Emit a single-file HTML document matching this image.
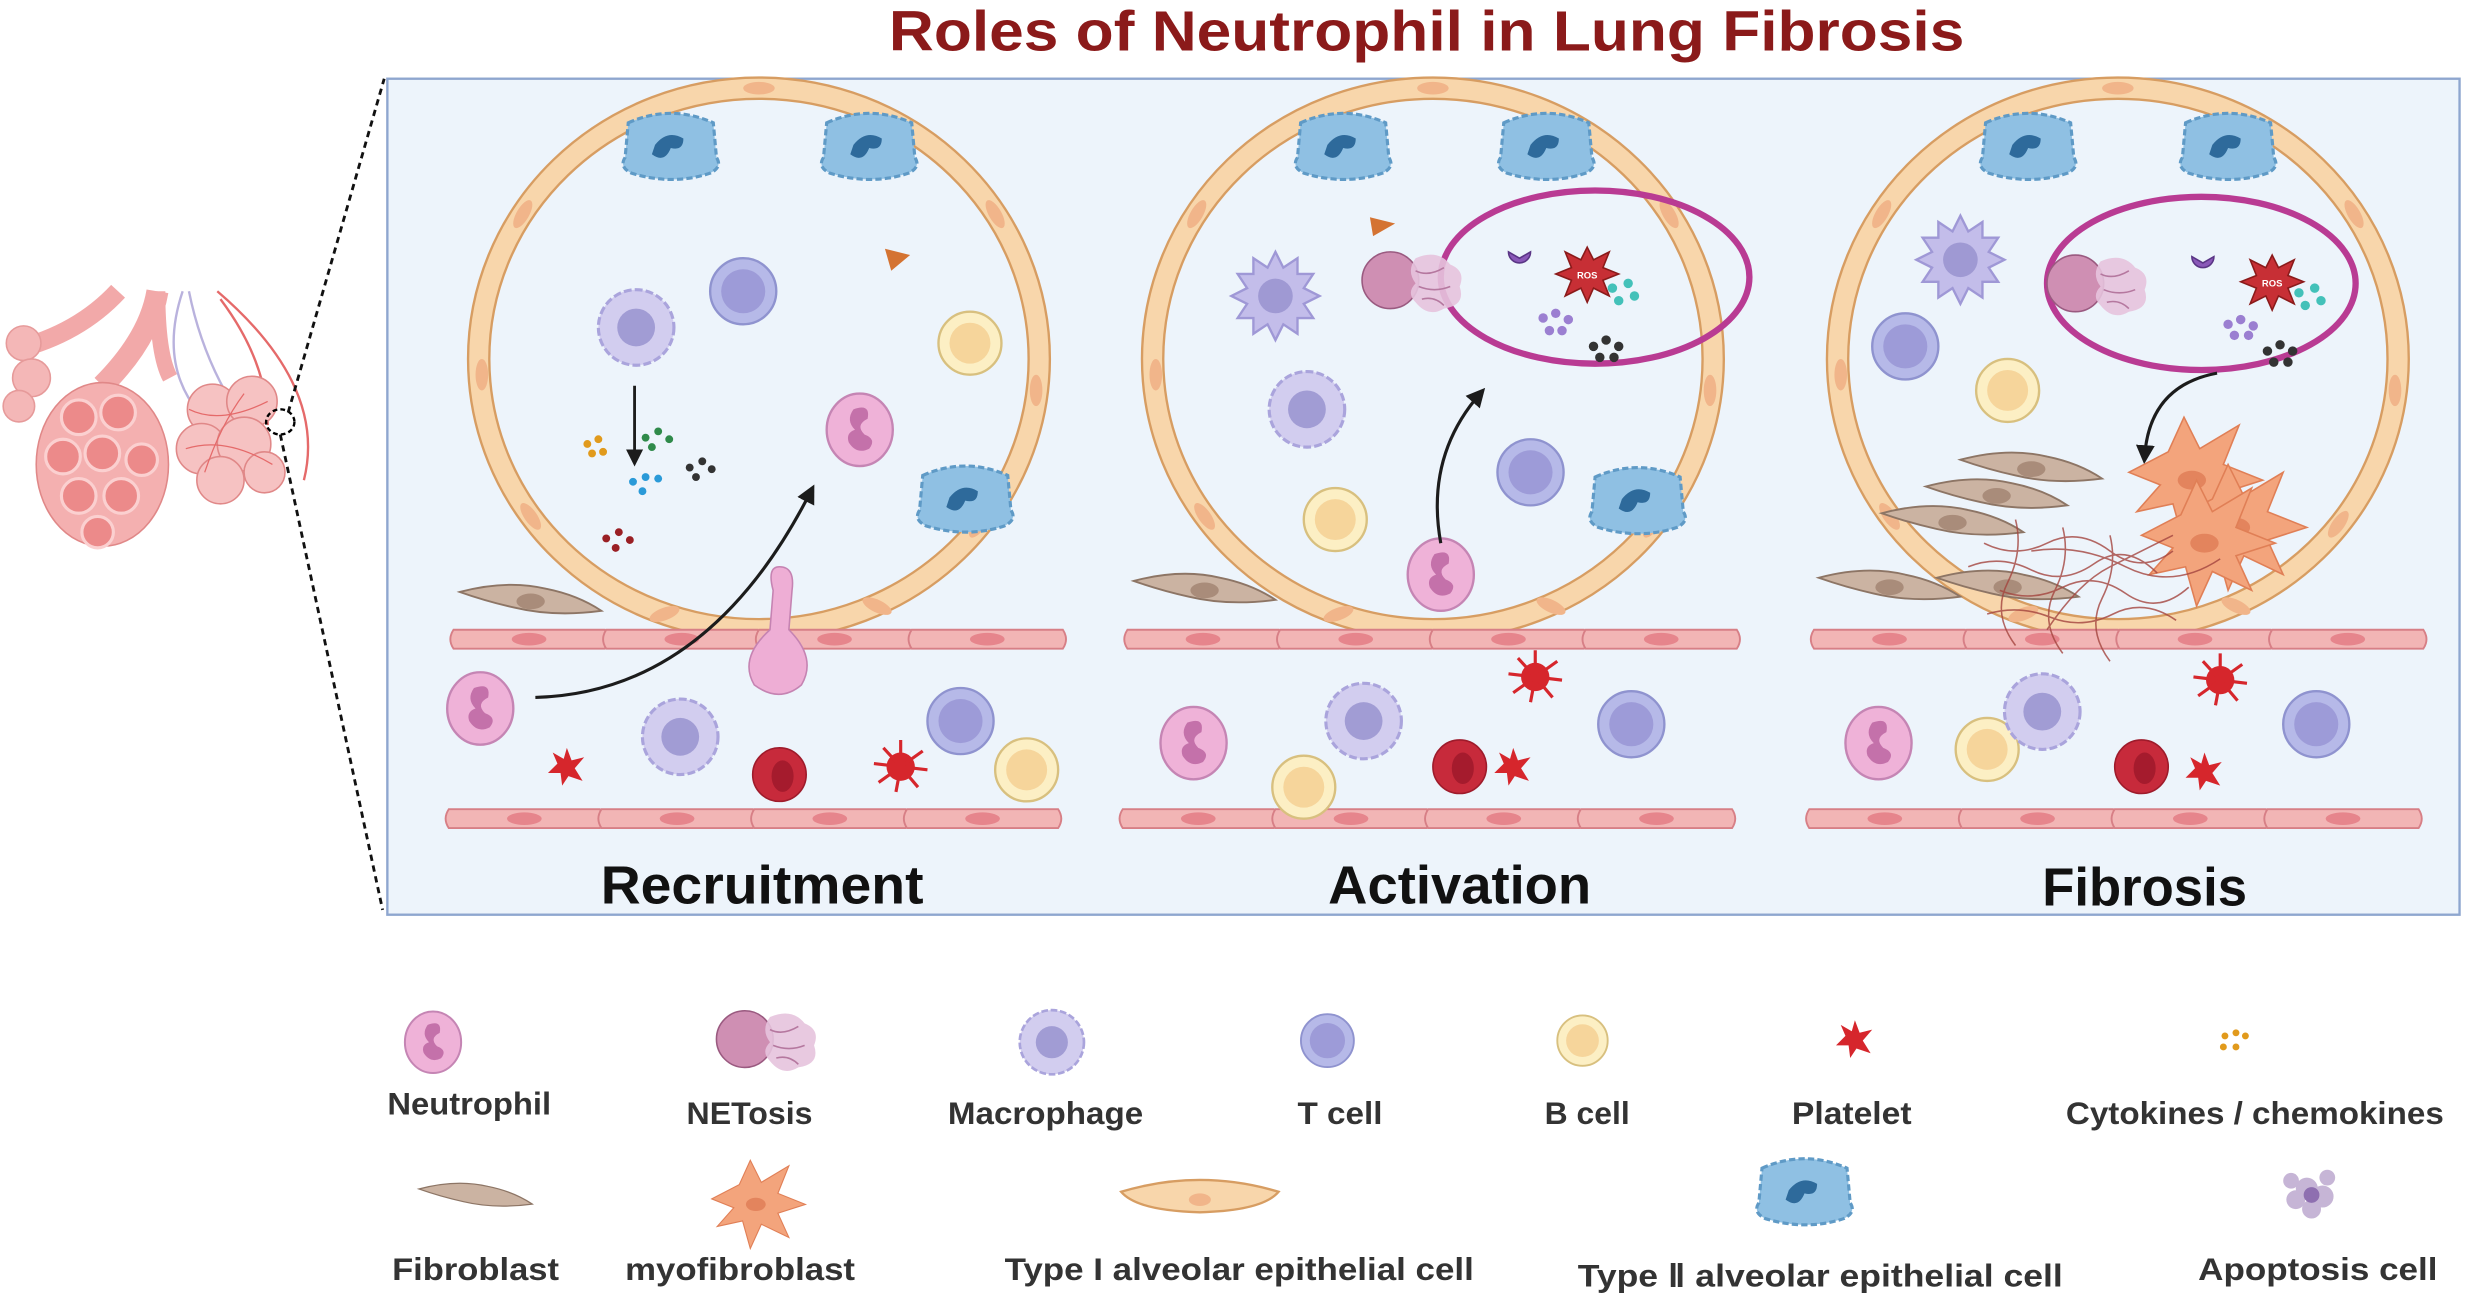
<!DOCTYPE html>
<html><head><meta charset="utf-8"><style>
html,body{margin:0;padding:0;background:#fff;}
svg{display:block;}
text{font-family:"Liberation Sans",sans-serif;font-weight:bold;}
</style></head><body>
<svg width="2469" height="1302" viewBox="0 0 1568 827" preserveAspectRatio="none" xmlns="http://www.w3.org/2000/svg">
<defs>
<g id="neu"><ellipse rx="21" ry="23" fill="#efb2d8" stroke="#c585b4" stroke-width="1.5"/><path d="M-4,-13 q11,-4 9,6 q-8,4 -2,10 q8,3 3,9 q-8,4 -13,-4 q-2,-6 4,-8 q-6,-6 -1,-13z" fill="#c471aa"/></g>
<g id="mac"><circle r="24" fill="#d2cdef" stroke="#aaa4dc" stroke-width="2" stroke-dasharray="5 2"/><circle r="12" fill="#a19cd4"/></g>
<g id="macs"><polygon points="0,-28 5,-18 14,-24 14,-14 24,-14 18,-5 28,0 18,5 24,14 14,14 14,24 5,18 0,28 -5,18 -14,24 -14,14 -24,14 -18,5 -28,0 -18,-5 -24,-14 -14,-14 -14,-24 -5,-18" fill="#c3bdea" stroke="#9f98d6" stroke-width="1.5"/><circle r="11" fill="#9f99d3"/></g>
<g id="tc"><circle r="21" fill="#b6b9e8" stroke="#8f93cf" stroke-width="1.5"/><circle r="14" fill="#9d9bd8"/></g>
<g id="bc"><circle r="20" fill="#fcefc4" stroke="#d8c07f" stroke-width="1.5"/><circle r="13" fill="#f6d59b"/></g>
<g id="t2"><path d="M-27,-20 q27,-12 54,0 l2,22 q4,6 -4,10 q-24,8 -50,0 q-8,-4 -4,-10z" fill="#8fc0e3" stroke="#5f9ac6" stroke-width="2" stroke-dasharray="4 2"/><path d="M-10,-6 q8,-10 18,-4 q0,8 -8,6 q-4,10 -12,4z" fill="#2e6a9b"/></g>
<g id="rbc"><circle r="17" fill="#c72a3b" stroke="#9e1b2b"/><ellipse cx="2" cy="1" rx="7" ry="10" fill="#a51b2d"/></g>
<g id="plt"><polygon points="0,-12 3,-4 11,-6 5,1 10,9 1,6 -3,12 -4,4 -12,4 -6,-2 -9,-9 -2,-5" fill="#d6262c"/></g>
<g id="plts"><circle r="9" fill="#d6262c"/><path d="M0,0 L0,-17 M0,0 L14,-10 M0,0 L17,2 M0,0 L11,13 M0,0 L-3,16 M0,0 L-14,10 M0,0 L-17,-2 M0,0 L-11,-12" stroke="#d6262c" stroke-width="2"/></g>
<g id="fib"><path d="M-45,-6 q30,-8 55,-2 q20,4 35,14 q-30,4 -55,-2 q-18,-4 -35,-10z" fill="#cbb3a2" stroke="#8d7565" stroke-width="1.2"/><ellipse cx="0" cy="0" rx="9" ry="5" fill="#a98c7a"/></g>
<g id="endo"><path d="M0,0 h96 q4,6 0,12 h-96 q-4,-6 0,-12z" fill="#f2b5b5" stroke="#d77f86" stroke-width="1.2"/><ellipse cx="48" cy="6" rx="11" ry="4" fill="#e6858c"/></g>
<g id="myo"><polygon points="-40,-5 -15,-18 -5,-40 5,-20 30,-35 20,-10 45,0 20,8 30,30 5,18 -5,40 -12,15 -35,20 -20,3" fill="#f3a47c" stroke="#e07f56" stroke-width="1"/><ellipse rx="9" ry="6" fill="#e3845d"/></g>
<g id="net"><circle cx="-12" cy="0" r="18" fill="#cf8fb3" stroke="#9a5a80"/><path d="M4,-14 q14,-6 22,4 q10,4 6,14 q4,12 -10,14 q-10,6 -18,-4 q-6,-6 0,-12 q-6,-8 0,-16z" fill="#e6c3dd" opacity="0.9"/><path d="M4,-6 q8,4 18,-2 M6,4 q10,4 20,0 M8,12 q8,-2 14,4" stroke="#b5789f" fill="none"/></g>
<g id="alv"><ellipse rx="178" ry="172" fill="none" stroke="#d79d62" stroke-width="15"/><ellipse rx="178" ry="172" fill="none" stroke="#f8d6ab" stroke-width="12"/>
<g fill="#f1b58a"><ellipse cx="0" cy="-172" rx="10" ry="4"/><ellipse cx="-150" cy="-92" rx="4" ry="10" transform="rotate(30 -150 -92)"/><ellipse cx="150" cy="-92" rx="4" ry="10" transform="rotate(-30 150 -92)"/><ellipse cx="-176" cy="10" rx="4" ry="10"/><ellipse cx="176" cy="20" rx="4" ry="10"/><ellipse cx="-145" cy="100" rx="4" ry="10" transform="rotate(-35 -145 100)"/><ellipse cx="140" cy="105" rx="4" ry="10" transform="rotate(35 140 105)"/><ellipse cx="-60" cy="162" rx="10" ry="4" transform="rotate(-20 -60 162)"/><ellipse cx="75" cy="157" rx="10" ry="4" transform="rotate(25 75 157)"/></g></g>
<g id="vessel"><use href="#endo" x="0" y="0"/><use href="#endo" x="97" y="0"/><use href="#endo" x="194" y="0"/><use href="#endo" x="291" y="0"/>
<use href="#endo" x="-3" y="114"/><use href="#endo" x="94" y="114"/><use href="#endo" x="191" y="114"/><use href="#endo" x="288" y="114"/></g>
<marker id="ah" viewBox="0 0 10 10" refX="6" refY="5" markerWidth="6" markerHeight="6" orient="auto"><path d="M0,0 L10,5 L0,10z" fill="#1c1c1c"/></marker>
</defs>

<text x="906" y="32" font-size="36" fill="#8b1a1a" text-anchor="middle" textLength="683" lengthAdjust="spacingAndGlyphs">Roles of Neutrophil in Lung Fibrosis</text>

<!-- lung -->
<g>
<path d="M10,222 q40,-10 65,-37" stroke="#f2a9a9" stroke-width="12" fill="none"/>
<path d="M100,185 q-5,30 -35,60" stroke="#f2a9a9" stroke-width="14" fill="none"/>
<path d="M100,185 q0,40 8,55" stroke="#f2a9a9" stroke-width="10" fill="none"/>
<path d="M116,185 q-20,60 30,95 M120,185 q10,50 40,90" stroke="#b9b2dd" stroke-width="1.5" fill="none"/>
<path d="M138,185 q70,60 55,120 M140,190 q30,40 30,80" stroke="#e56a6a" stroke-width="1.5" fill="none"/>
<g fill="#f4b7b7" stroke="#e69a9a"><circle cx="15" cy="218" r="11"/><circle cx="20" cy="240" r="12"/><circle cx="12" cy="258" r="10"/></g>
<ellipse cx="65" cy="295" rx="42" ry="52" fill="#f4b0b0" stroke="#e08888"/>
<g fill="#ec8a8a" stroke="#fbd0d0" stroke-width="2"><circle cx="50" cy="265" r="11"/><circle cx="75" cy="262" r="11"/><circle cx="40" cy="290" r="11"/><circle cx="65" cy="288" r="11"/><circle cx="90" cy="292" r="10"/><circle cx="50" cy="315" r="11"/><circle cx="77" cy="315" r="11"/><circle cx="62" cy="338" r="10"/></g>
<g fill="#f6c2c2" stroke="#e08888"><circle cx="135" cy="260" r="16"/><circle cx="160" cy="255" r="16"/><circle cx="128" cy="285" r="16"/><circle cx="155" cy="282" r="17"/><circle cx="140" cy="305" r="15"/><circle cx="168" cy="300" r="13"/></g>
<path d="M120,260 q20,10 50,-5 M118,285 q25,-8 55,10 M130,300 q10,-30 25,-50" stroke="#e56a6a" stroke-width="0.8" fill="none"/>
<ellipse cx="178" cy="268" rx="9" ry="8" fill="none" stroke="#000" stroke-dasharray="3 2" stroke-width="1.5"/>
</g>
<path d="M183,262 L244,50 M178,276 L243,578" stroke="#111" stroke-width="1.8" stroke-dasharray="4 3"/>

<rect x="246" y="50" width="1316" height="531" fill="#edf4fb" stroke="#8ea6cf" stroke-width="1.5"/>

<!-- Panel 1 -->
<use href="#alv" x="482" y="228"/>
<use href="#vessel" x="288" y="400"/>
<use href="#t2" x="426" y="98"/><use href="#t2" x="552" y="98"/><use href="#t2" x="613" y="322"/>
<use href="#mac" x="404" y="208"/><use href="#tc" x="472" y="185"/><use href="#bc" x="616" y="218"/>
<polygon points="562,158 578,162 566,172" fill="#d47332"/>
<use href="#neu" x="546" y="273"/>
<g fill="#e19a1c"><circle cx="373" cy="282" r="2.5"/><circle cx="380" cy="279" r="2.5"/><circle cx="376" cy="288" r="2.5"/><circle cx="383" cy="287" r="2.5"/></g>
<g fill="#2f8a4a"><circle cx="410" cy="278" r="2.5"/><circle cx="418" cy="274" r="2.5"/><circle cx="425" cy="279" r="2.5"/><circle cx="414" cy="284" r="2.5"/></g>
<g fill="#2a9ad8"><circle cx="402" cy="306" r="2.5"/><circle cx="410" cy="303" r="2.5"/><circle cx="418" cy="304" r="2.5"/><circle cx="408" cy="312" r="2.5"/></g>
<g fill="#333"><circle cx="438" cy="297" r="2.5"/><circle cx="446" cy="293" r="2.5"/><circle cx="452" cy="298" r="2.5"/><circle cx="442" cy="303" r="2.5"/></g>
<g fill="#9a1f24"><circle cx="385" cy="342" r="2.5"/><circle cx="393" cy="338" r="2.5"/><circle cx="400" cy="343" r="2.5"/><circle cx="391" cy="348" r="2.5"/></g>
<path d="M403,245 L403,292" stroke="#1c1c1c" stroke-width="1.8" marker-end="url(#ah)"/>
<path d="M340,443 Q450,440 515,312" stroke="#1c1c1c" stroke-width="2" fill="none" marker-end="url(#ah)"/>
<use href="#fib" x="337" y="382"/>
<path d="M495,360 q10,0 8,15 l-2,25 q18,18 8,35 q-14,12 -30,0 q-10,-17 10,-35 l2,-25 q-4,-15 4,-15z" fill="#eeaed5" stroke="#c583b2"/>
<use href="#neu" x="305" y="450"/><use href="#plt" x="360" y="487"/><use href="#mac" x="432" y="468"/>
<use href="#rbc" x="495" y="492"/><use href="#plts" x="572" y="487"/><use href="#tc" x="610" y="458"/><use href="#bc" x="652" y="489"/>
<text x="484" y="574" font-size="34" fill="#111" text-anchor="middle" textLength="205" lengthAdjust="spacingAndGlyphs">Recruitment</text>

<!-- Panel 2 -->
<use href="#alv" x="910" y="228"/>
<use href="#vessel" x="716" y="400"/>
<use href="#t2" x="853" y="98"/><use href="#t2" x="982" y="98"/><use href="#t2" x="1040" y="323"/>
<ellipse cx="1013" cy="176" rx="98" ry="55" fill="none" stroke="#b93b93" stroke-width="4"/>
<use href="#net" x="895" y="178"/>
<path d="M958,160 a7,7 0 1,0 14,0 l-7,4z" fill="#8a58b8" stroke="#5a3585"/>
<polygon points="1008,157 1012,165 1022,160 1018,170 1028,174 1018,178 1022,188 1012,183 1008,192 1004,183 994,188 998,178 988,174 998,170 994,160 1004,165" fill="#c72f35" stroke="#8a1a1a"/>
<text x="1008" y="177" font-size="6" fill="#fff" text-anchor="middle">ROS</text>
<g fill="#43c1b9"><circle cx="1024" cy="183" r="3"/><circle cx="1034" cy="180" r="3"/><circle cx="1028" cy="191" r="3"/><circle cx="1038" cy="188" r="3"/></g>
<g fill="#9b7fd1"><circle cx="980" cy="202" r="3"/><circle cx="988" cy="199" r="3"/><circle cx="996" cy="203" r="3"/><circle cx="984" cy="210" r="3"/><circle cx="992" cy="210" r="3"/></g>
<g fill="#333"><circle cx="1012" cy="220" r="3"/><circle cx="1020" cy="216" r="3"/><circle cx="1028" cy="220" r="3"/><circle cx="1016" cy="227" r="3"/><circle cx="1025" cy="227" r="3"/></g>
<polygon points="870,138 886,142 872,150" fill="#d47332"/>
<use href="#macs" x="810" y="188"/><use href="#mac" x="830" y="260"/><use href="#tc" x="972" y="300"/><use href="#bc" x="848" y="330"/>
<use href="#neu" x="915" y="365"/>
<path d="M915,345 Q905,290 940,250" stroke="#1c1c1c" stroke-width="2" fill="none" marker-end="url(#ah)"/>
<use href="#fib" x="765" y="375"/>
<use href="#neu" x="758" y="472"/><use href="#mac" x="866" y="458"/><use href="#bc" x="828" y="500"/>
<use href="#rbc" x="927" y="487"/><use href="#plt" x="961" y="487"/><use href="#plts" x="975" y="430"/><use href="#tc" x="1036" y="460"/>
<text x="927" y="574" font-size="34" fill="#111" text-anchor="middle" textLength="167" lengthAdjust="spacingAndGlyphs">Activation</text>

<!-- Panel 3 -->
<use href="#alv" x="1345" y="228"/>
<use href="#vessel" x="1152" y="400"/>
<use href="#t2" x="1288" y="98"/><use href="#t2" x="1415" y="98"/>
<ellipse cx="1398" cy="180" rx="98" ry="55" fill="none" stroke="#b93b93" stroke-width="4"/>
<use href="#net" x="1330" y="180"/>
<path d="M1392,163 a7,7 0 1,0 14,0 l-7,4z" fill="#8a58b8" stroke="#5a3585"/>
<polygon points="1443,162 1447,170 1457,165 1453,175 1463,179 1453,183 1457,193 1447,188 1443,197 1439,188 1429,193 1433,183 1423,179 1433,175 1429,165 1439,170" fill="#c72f35" stroke="#8a1a1a"/>
<text x="1443" y="182" font-size="6" fill="#fff" text-anchor="middle">ROS</text>
<g fill="#43c1b9"><circle cx="1460" cy="186" r="3"/><circle cx="1470" cy="183" r="3"/><circle cx="1464" cy="194" r="3"/><circle cx="1474" cy="191" r="3"/></g>
<g fill="#9b7fd1"><circle cx="1415" cy="206" r="3"/><circle cx="1423" cy="203" r="3"/><circle cx="1431" cy="207" r="3"/><circle cx="1419" cy="213" r="3"/><circle cx="1428" cy="213" r="3"/></g>
<g fill="#333"><circle cx="1440" cy="223" r="3"/><circle cx="1448" cy="219" r="3"/><circle cx="1456" cy="223" r="3"/><circle cx="1444" cy="230" r="3"/><circle cx="1453" cy="230" r="3"/></g>
<use href="#macs" x="1245" y="165"/><use href="#tc" x="1210" y="220"/><use href="#bc" x="1275" y="248"/>
<path d="M1408,237 Q1365,245 1362,290" stroke="#1c1c1c" stroke-width="2" fill="none" marker-end="url(#ah)"/>
<use href="#fib" x="1290" y="298"/><use href="#fib" x="1268" y="315"/><use href="#fib" x="1240" y="332"/>
<use href="#fib" x="1200" y="373"/><use href="#fib" x="1275" y="373"/>
<use href="#myo" x="1392" y="305"/><use href="#myo" x="1420" y="335"/><use href="#myo" x="1400" y="345"/>
<g stroke="#a4453f" stroke-width="1" fill="none" opacity="0.8">
<path d="M1260,345 q20,10 40,0 t40,5 t40,0"/><path d="M1250,360 q20,-8 40,2 t40,-4 t40,6"/><path d="M1270,375 q20,8 40,-2 t40,4 t40,-4"/><path d="M1262,390 q20,-6 40,2 t40,-2 t40,4"/><path d="M1280,330 q5,20 -5,40 t5,40"/><path d="M1310,335 q5,20 -5,40 t5,40"/><path d="M1340,340 q5,20 -5,40 t5,40"/><path d="M1290,350 q30,-5 60,10 t60,-5"/><path d="M1300,400 q20,-30 40,-40 t40,-20"/></g>
<use href="#neu" x="1193" y="472"/><use href="#bc" x="1262" y="476"/><use href="#mac" x="1297" y="452"/>
<use href="#rbc" x="1360" y="487"/><use href="#plt" x="1400" y="490"/><use href="#plts" x="1410" y="432"/><use href="#tc" x="1471" y="460"/>
<text x="1362" y="575" font-size="34" fill="#111" text-anchor="middle" textLength="130" lengthAdjust="spacingAndGlyphs">Fibrosis</text>

<!-- Legend -->
<g transform="translate(275,662) scale(0.85)"><use href="#neu"/></g>
<g transform="translate(485,660) scale(1)"><use href="#net"/></g>
<g transform="translate(668,662) scale(0.85)"><use href="#mac"/></g>
<g transform="translate(843,661) scale(0.8)"><use href="#tc"/></g>
<g transform="translate(1005,661) scale(0.8)"><use href="#bc"/></g>
<use href="#plt" x="1178" y="660"/>
<g fill="#e19a1c"><circle cx="1413" cy="658" r="2.2"/><circle cx="1420" cy="656" r="2.2"/><circle cx="1426" cy="658" r="2.2"/><circle cx="1412" cy="665" r="2.2"/><circle cx="1420" cy="665" r="2.2"/></g>
<g fill="#333" font-size="20" text-anchor="middle">
<text x="298" y="708" textLength="104" lengthAdjust="spacingAndGlyphs">Neutrophil</text>
<text x="476" y="714" textLength="80" lengthAdjust="spacingAndGlyphs">NETosis</text>
<text x="664" y="714" textLength="124" lengthAdjust="spacingAndGlyphs">Macrophage</text>
<text x="851" y="714" textLength="54" lengthAdjust="spacingAndGlyphs">T cell</text>
<text x="1008" y="714" textLength="54" lengthAdjust="spacingAndGlyphs">B cell</text>
<text x="1176" y="714" textLength="76" lengthAdjust="spacingAndGlyphs">Platelet</text>
<text x="1432" y="714" textLength="240" lengthAdjust="spacingAndGlyphs">Cytokines / chemokines</text>
<text x="302" y="813" textLength="106" lengthAdjust="spacingAndGlyphs">Fibroblast</text>
<text x="470" y="813" textLength="146" lengthAdjust="spacingAndGlyphs">myofibroblast</text>
<text x="787" y="813" textLength="298" lengthAdjust="spacingAndGlyphs">Type I alveolar epithelial cell</text>
<text x="1156" y="817" textLength="308" lengthAdjust="spacingAndGlyphs">Type Ⅱ  alveolar epithelial cell</text>
<text x="1472" y="813" textLength="152" lengthAdjust="spacingAndGlyphs">Apoptosis cell</text>
</g>
<g transform="translate(302,760) scale(0.8)"><path d="M-45,-6 q30,-8 55,-2 q20,4 35,14 q-30,4 -55,-2 q-18,-4 -35,-10z" fill="#cbb3a2" stroke="#8d7565"/></g>
<g transform="translate(480,765) scale(0.7)"><use href="#myo"/></g>
<path d="M712,757 q50,-15 100,0 q-10,12 -50,13 q-40,-1 -50,-13z" fill="#f8d6ab" stroke="#d79d62" stroke-width="1.5"/>
<ellipse cx="762" cy="762" rx="7" ry="4" fill="#f1b58a"/>
<g transform="translate(1146,762) scale(1)"><use href="#t2"/></g>
<g fill="#b9a3cc" opacity="0.8"><circle cx="1465" cy="755" r="7"/><circle cx="1475" cy="760" r="7"/><circle cx="1468" cy="768" r="6"/><circle cx="1458" cy="762" r="6"/><circle cx="1478" cy="748" r="5"/><circle cx="1455" cy="750" r="5"/></g>
<circle cx="1468" cy="759" r="5" fill="#8e6fb0"/>
</svg>
</body></html>
